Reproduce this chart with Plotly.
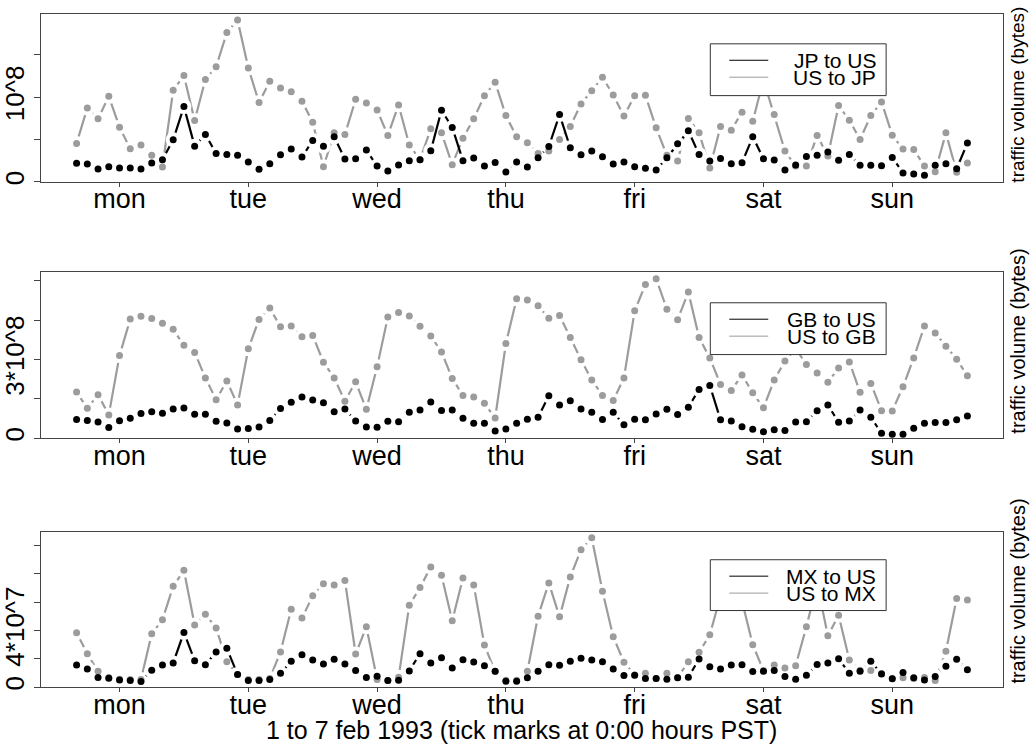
import plotly.graph_objects as go

W, H = 1030, 745

# ---- data (values in units of 10^6 bytes) ----
hours = list(range(-8, 160, 2))  # PST hours relative to Monday 0:00, every 2 h
day_ticks = [0, 24, 48, 72, 96, 120, 144]
day_labels = ["mon", "tue", "wed", "thu", "fri", "sat", "sun"]

jp_to_us = [22.0, 21.2, 15.3, 18.0, 16.5, 16.5, 15.3, 22.3, 26.3, 49.8, 89.0, 42.3, 56.1, 33.7, 32.5, 31.4,
            23.5, 14.9, 21.6, 32.1, 38.8, 29.4, 49.0, 42.3, 53.3, 27.0, 27.4, 37.6, 18.8, 12.9, 20.0, 25.1,
            26.3, 36.8, 84.7, 64.3, 25.1, 28.2, 18.8, 23.1, 11.8, 23.5, 17.6, 28.6, 41.9, 79.6, 40.4, 32.1,
            36.5, 29.8, 21.2, 23.5, 18.0, 16.1, 14.1, 28.6, 45.1, 60.4, 32.5, 24.7, 27.8, 21.6, 22.7, 53.3,
            27.4, 25.9, 14.1, 20.0, 30.2, 31.4, 35.3, 25.5, 32.5, 19.6, 19.6, 19.2, 29.0, 10.6, 9.4, 7.8,
            19.6, 21.6, 15.7, 45.9]
us_to_jp = [45.5, 87.4, 74.5, 101.1, 64.7, 39.2, 43.5, 31.4, 17.6, 108.2, 125.8, 72.5, 121.1, 136.0, 176.4, 191.3,
            134.5, 93.7, 118.8, 110.9, 106.6, 95.3, 70.6, 18.0, 58.0, 56.1, 97.6, 93.3, 85.1, 54.9, 90.9, 43.5,
            26.3, 62.7, 58.0, 20.4, 51.7, 74.5, 101.9, 117.6, 78.4, 53.3, 46.3, 33.7, 36.5, 50.2, 65.5, 92.1,
            107.8, 123.5, 102.7, 78.0, 101.9, 102.3, 63.9, 31.4, 24.7, 74.9, 58.0, 16.5, 65.5, 61.2, 82.3, 71.7,
            120.7, 79.6, 36.5, 18.8, 18.8, 54.9, 30.6, 90.2, 72.9, 50.2, 78.4, 94.5, 55.3, 38.8, 38.4, 18.8,
            12.2, 58.0, 11.4, 22.3]

gb_to_us = [71, 68, 62, 41, 67, 76, 94, 101, 95, 111, 115, 91, 91, 65, 58, 35, 37, 43, 68, 113, 137, 157, 146, 135,
            101, 111, 66, 43, 42, 65, 63, 99, 108, 138, 106, 108, 76, 57, 57, 28, 35, 57, 72, 80, 162, 127, 143,
            111, 99, 71, 99, 51, 72, 70, 92, 110, 90, 118, 186, 201, 70, 66, 44, 34, 25, 32, 29, 62, 63, 105, 127,
            61, 66, 108, 80, 19, 15, 15, 38, 57, 60, 60, 70, 85]
us_to_gb = [176, 114, 166, 89, 315, 454, 465, 456, 438, 415, 354, 327, 230, 147, 218, 127, 341, 453, 496, 425, 428,
            387, 392, 290, 230, 141, 215, 110, 272, 462, 479, 466, 427, 390, 329, 228, 163, 157, 133, 77, 361, 532,
            527, 505, 457, 468, 384, 299, 222, 163, 144, 230, 486, 586, 608, 492, 452, 557, 384, 306, 205, 182, 241,
            173, 116, 222, 294, 342, 281, 249, 213, 268, 291, 175, 209, 105, 104, 196, 306, 428, 401, 351, 301, 238]

mx_to_us = [15.7, 12.9, 6.8, 6.3, 5.1, 4.7, 4.0, 11.9, 15.7, 17.1, 38.6, 18.7, 15.9, 24.8, 27.4, 8.9, 4.7, 4.7, 5.4,
            9.8, 18.3, 22.9, 19.2, 16.4, 19.7, 16.4, 11.7, 6.8, 7.7, 4.7, 4.9, 11.5, 23.6, 17.1, 20.8, 13.6, 19.4,
            17.8, 15.2, 11.2, 4.2, 4.2, 6.6, 11.2, 15.9, 15.4, 18.3, 20.4, 19.2, 18.0, 12.9, 8.2, 8.4, 6.1, 6.1,
            5.6, 6.6, 7.0, 19.9, 14.5, 12.9, 15.7, 15.9, 11.0, 11.2, 11.7, 7.5, 5.6, 8.4, 16.1, 17.1, 20.1, 9.8,
            11.2, 18.3, 9.4, 5.9, 10.3, 6.6, 5.1, 7.5, 14.7, 19.7, 12.4]
us_to_mx = [38.4, 23.6, 11.2, 6.8, 5.6, 5.4, 5.4, 37.7, 47.5, 71.1, 82.4, 43.8, 51.5, 41.7, 18.0, 8.9, 5.4, 5.4, 6.1,
            24.8, 55.0, 48.7, 64.4, 73.0, 72.1, 75.3, 23.4, 42.6, 5.4, 4.7, 7.0, 57.8, 70.2, 84.7, 78.9, 46.8, 77.0,
            72.1, 29.7, 11.0, 4.9, 4.9, 11.2, 50.1, 73.5, 49.6, 77.7, 96.9, 105.3, 67.6, 35.6, 17.6, 8.7, 9.8, 6.1,
            9.8, 6.8, 18.0, 24.6, 37.0, 64.4, 69.0, 60.8, 30.0, 11.7, 15.7, 13.6, 15.2, 42.6, 73.0, 36.3, 50.8,
            19.2, 11.9, 11.7, 9.6, 6.1, 6.6, 6.1, 6.8, 4.7, 25.3, 62.5, 61.5]

panel_names = [("JP to US", "US to JP"), ("GB to US", "US to GB"), ("MX to US", "US to MX")]
ytick_vals = [[0, 50, 100, 150], [0, 150, 300, 450, 600], [0, 20, 40, 60, 80, 100]]
ytick_text = [["0", "", "10^8", ""], ["0", "", "3*10^8", "", ""], ["0", "", "4*10^7", "", "", ""]]
x_title = "1 to 7 feb 1993 (tick marks at 0:00 hours PST)"
side_label = "traffic volume (bytes)"

# ---- layout geometry (pixels) ----
FONT = "Liberation Sans, Arial, Helvetica, sans-serif"
BLACK = "#000000"
GREY = "#9c9c9c"
plot_left, plot_right = 40, 1003
panel_px = [(14, 182.7), (273, 440), (534, 690)]       # top, bottom
y_ranges = [[0, 198.4], [0, 634], [0, 109.5]]
legend_px = [(710, 886, 44, 96), (710, 886, 304, 356), (710, 886, 562, 613)]
label_px = [(1018, 95, 19), (1018, 343, 20), (1018, 594, 20)]


def px_x(x):
    return x / W


def px_y(y):
    return 1 - y / H


series = [(jp_to_us, us_to_jp), (gb_to_us, us_to_gb), (mx_to_us, us_to_mx)]

fig = go.Figure()
for p, (blk, gry) in enumerate(series):
    xa = "x" if p == 0 else f"x{p+1}"
    ya = "y" if p == 0 else f"y{p+1}"
    common = dict(x=hours, xaxis=xa, yaxis=ya, showlegend=False, hoverinfo="skip")
    # grey line with gaps around its points
    fig.add_trace(go.Scatter(y=gry, mode="lines", line=dict(color=GREY, width=2.2), **common))
    fig.add_trace(go.Scatter(y=gry, mode="markers", marker=dict(color="white", size=15, line=dict(width=0)), **common))
    # black line with gaps around its points
    fig.add_trace(go.Scatter(y=blk, mode="lines", line=dict(color=BLACK, width=2.2), **common))
    fig.add_trace(go.Scatter(y=blk, mode="markers", marker=dict(color="white", size=15, line=dict(width=0)), **common))
    # dots
    fig.add_trace(go.Scatter(y=gry, mode="markers", marker=dict(color=GREY, size=7, line=dict(width=0)), **common))
    fig.add_trace(go.Scatter(y=blk, mode="markers", marker=dict(color=BLACK, size=7, line=dict(width=0)), **common))

layout = dict(
    width=W, height=H, margin=dict(l=0, r=0, t=0, b=0),
    paper_bgcolor="white", plot_bgcolor="white",
    font=dict(family=FONT, color="black"),
    showlegend=False,
)
shapes = []
annotations = []
for p in range(3):
    top, bot = panel_px[p]
    sx = "" if p == 0 else str(p + 1)
    layout["xaxis" + sx] = dict(
        domain=[px_x(plot_left), px_x(plot_right)], range=[-14.64, 164.64],
        anchor="y" + sx, tickvals=day_ticks, ticktext=day_labels,
        ticks="outside", ticklen=4, tickcolor="#444", tickwidth=1,
        showline=True, linecolor="#444", linewidth=1, mirror=True,
        showgrid=False, zeroline=False, ticklabelstandoff=-11,
        tickfont=dict(size=27, family=FONT, color="black"),
    )
    layout["yaxis" + sx] = dict(
        domain=[px_y(bot), px_y(top)], range=y_ranges[p],
        anchor="x" + sx, tickvals=ytick_vals[p], ticktext=ytick_text[p],
        tickangle=-90, ticks="outside", ticklen=6, tickcolor="#444", tickwidth=1,
        showline=True, linecolor="#444", linewidth=1, mirror=True,
        showgrid=False, zeroline=False,
        tickfont=dict(size=26, family=FONT, color="black"),
    )
    # manual legend
    lx0, lx1, ly0, ly1 = legend_px[p]
    shapes.append(dict(type="rect", xref="paper", yref="paper",
                       x0=px_x(lx0), x1=px_x(lx1), y0=px_y(ly1), y1=px_y(ly0),
                       fillcolor="white", line=dict(color="#333", width=1), layer="above"))
    for k, (col, dy) in enumerate([(BLACK, 16.5), (GREY, 33.5)]):
        shapes.append(dict(type="line", xref="paper", yref="paper",
                           x0=px_x(lx0 + 19), x1=px_x(lx0 + 58), y0=px_y(ly0 + dy), y1=px_y(ly0 + dy),
                           line=dict(color=col, width=1), layer="above"))
        annotations.append(dict(text=panel_names[p][k], xref="paper", yref="paper",
                                x=px_x(lx1 - 8), y=px_y(ly0 + dy), xanchor="right", yanchor="middle",
                                showarrow=False, font=dict(size=21, family=FONT, color="black")))
    lx, ly, fs = label_px[p]
    annotations.append(dict(text=side_label, xref="paper", yref="paper", x=px_x(lx), y=px_y(ly),
                            textangle=-90, xanchor="center", yanchor="middle", showarrow=False,
                            font=dict(size=fs, family=FONT, color="black")))

annotations.append(dict(text=x_title, xref="paper", yref="paper", x=px_x(521), y=px_y(733),
                        xanchor="center", yanchor="middle", showarrow=False,
                        font=dict(size=25, family=FONT, color="black")))
layout["shapes"] = shapes
layout["annotations"] = annotations
fig.update_layout(**layout)
fig.write_html("out.html", config={"displayModeBar": False},
               post_script="document.body.style.margin='0';document.body.style.overflow='hidden';")
